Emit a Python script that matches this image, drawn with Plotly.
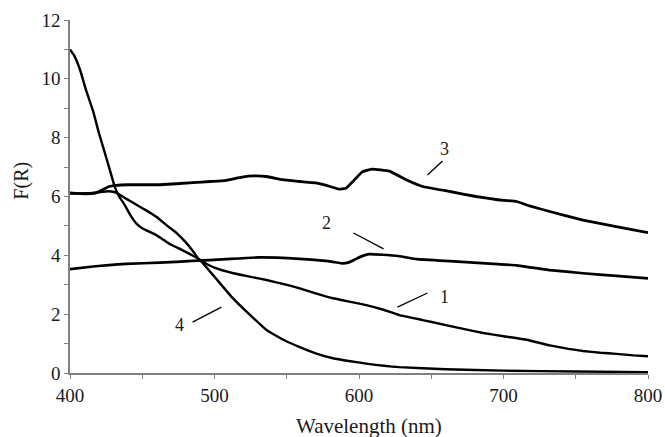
import plotly.graph_objects as go

# ---- data ----
wl_1 = [400, 416, 427, 432, 439, 446, 453, 460, 467, 474, 480, 485, 489.6,
        500, 513, 525, 536, 548, 559, 570, 582, 594, 605, 617, 628, 644, 660,
        673, 686, 700, 716, 732, 745, 755, 767, 778, 790, 800]
f_1 = [6.10, 6.12, 6.18, 6.13, 5.92, 5.72, 5.52, 5.30, 5.02, 4.75, 4.45, 4.15, 3.84,
       3.58, 3.39, 3.27, 3.16, 3.02, 2.88, 2.71, 2.54, 2.42, 2.31, 2.15, 1.97, 1.80, 1.63,
       1.49, 1.36, 1.25, 1.13, 0.94, 0.82, 0.75, 0.69, 0.65, 0.60, 0.57]

wl_2 = [400, 416, 427, 439, 462, 485, 508, 531, 559, 575, 582, 588, 593, 598, 603,
        607, 616, 628, 640, 663, 696, 709, 720, 732, 755, 778, 800]
f_2 = [3.53, 3.62, 3.67, 3.71, 3.75, 3.81, 3.87, 3.93, 3.88, 3.82, 3.78, 3.73, 3.76, 3.88,
       3.99, 4.04, 4.02, 3.97, 3.87, 3.80, 3.70, 3.66, 3.58, 3.50, 3.39, 3.30, 3.22]

wl_3 = [400, 410, 418, 423, 427, 432, 440, 462, 485, 497, 508, 519, 527, 536, 547,
        559, 570, 580, 586, 591, 596, 602, 609, 621, 633, 644, 663, 681, 696, 709,
        718, 732, 755, 778, 800]
f_3 = [6.12, 6.09, 6.12, 6.24, 6.34, 6.38, 6.40, 6.40, 6.47, 6.51, 6.55, 6.66, 6.70, 6.68,
       6.57, 6.51, 6.46, 6.34, 6.25, 6.28, 6.52, 6.83, 6.93, 6.86, 6.56, 6.34, 6.17, 6.00,
       5.89, 5.83, 5.68, 5.49, 5.20, 4.98, 4.77]

wl_4 = [400, 403, 407, 411, 416, 420, 424, 427, 431, 434, 438, 442, 446, 450, 455, 460,
        465, 470, 478, 489.6, 500, 512, 524, 536, 548, 559, 570, 582, 594, 605, 628,
        660, 700, 750, 800]
f_4 = [11.0, 10.78, 10.30, 9.63, 8.90, 8.16, 7.50, 7.0, 6.33, 6.0, 5.70, 5.35, 5.08, 4.92,
       4.80, 4.68, 4.52, 4.36, 4.17, 3.86, 3.27, 2.58, 2.00, 1.46, 1.12, 0.88, 0.67, 0.50,
       0.40, 0.32, 0.20, 0.13, 0.08, 0.05, 0.03]

series = [("1", wl_1, f_1, 2.4), ("2", wl_2, f_2, 2.7), ("3", wl_3, f_3, 2.8), ("4", wl_4, f_4, 2.4)]

# curve labels: text position and leader-line endpoints (data units)
label_text = ["1", "2", "3", "4"]
label_x = [659, 577.5, 659, 475.5]
label_y = [2.59, 5.10, 7.62, 1.63]
leader_x0 = [626.6, 596.2, 647.4, 484.8]
leader_y0 = [2.24, 4.76, 6.73, 1.73]
leader_x1 = [647.4, 617.0, 657.8, 504.8]
leader_y1 = [2.72, 4.22, 7.21, 2.24]

FONT = "Liberation Serif, Times New Roman, serif"
TXT = "#1a1a1a"

fig = go.Figure()
for name, x, y, w in series:
    fig.add_trace(go.Scatter(x=x, y=y, mode="lines", name=name,
                             line=dict(color="black", width=w, shape="spline", smoothing=0.3),
                             showlegend=False, hoverinfo="skip"))

for t, lx, ly, x0, y0, x1, y1 in zip(label_text, label_x, label_y,
                                     leader_x0, leader_y0, leader_x1, leader_y1):
    fig.add_shape(type="line", x0=x0, y0=y0, x1=x1, y1=y1, xref="x", yref="y",
                  line=dict(color="black", width=1.3))
    fig.add_annotation(x=lx, y=ly, text=t, showarrow=False, xref="x", yref="y",
                       xanchor="center", yanchor="middle",
                       font=dict(family=FONT, size=18, color=TXT))

# axis titles placed as annotations to match reference positions
fig.add_annotation(x=0.517, y=-0.150, xref="paper", yref="paper", text="Wavelength (nm)",
                   xanchor="center", yanchor="middle",
                   showarrow=False, font=dict(family=FONT, size=21, color=TXT))
fig.add_annotation(x=-0.083, y=0.545, xref="paper", yref="paper", text="F(R)", textangle=-90,
                   xanchor="center", yanchor="middle",
                   showarrow=False, font=dict(family=FONT, size=20, color=TXT))

axis_common = dict(showgrid=False, zeroline=False, showline=True, linecolor="#808080",
                   linewidth=1.5, ticks="outside", ticklen=4, tickwidth=1.2,
                   tickcolor="#808080", tickfont=dict(family=FONT, size=19, color=TXT),
                   automargin=False, ticklabeloverflow="allow")

fig.update_xaxes(range=[400, 800], dtick=100, tick0=400,
                 minor=dict(dtick=50, ticks="outside", ticklen=4, tickcolor="#808080", tickwidth=1.2),
                 **axis_common)
fig.update_yaxes(range=[0, 12], dtick=2, tick0=0,
                 minor=dict(dtick=1, ticks="outside", ticklen=4, tickcolor="#808080", tickwidth=1.2),
                 **axis_common)

fig.update_layout(width=665, height=437, margin=dict(l=70, r=17, t=20, b=64),
                  plot_bgcolor="white", paper_bgcolor="white")

# remove the default 8px page margin so the figure fills the window exactly
fig.write_html("out.html", config={"displayModeBar": False},
               post_script="document.body.style.margin='0';document.body.style.overflow='hidden';")
